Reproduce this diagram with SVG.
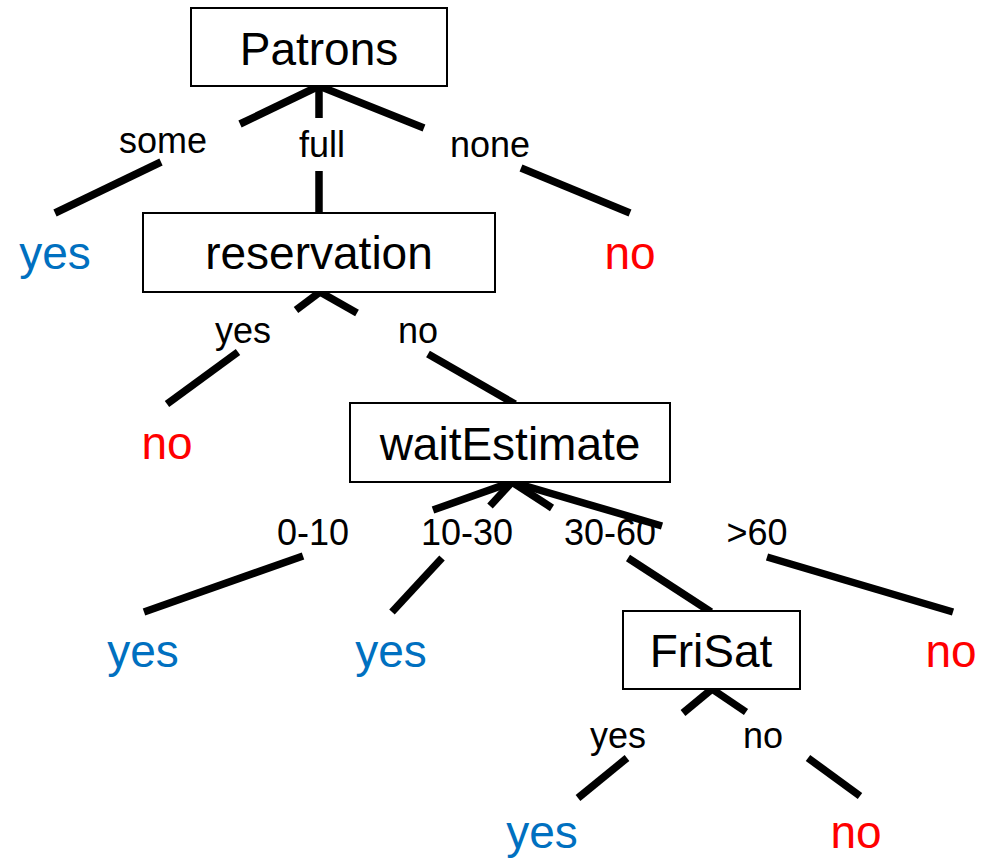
<svg xmlns="http://www.w3.org/2000/svg" width="981" height="859" viewBox="0 0 981 859">
<style>
.box{fill:#fff;stroke:#000;stroke-width:2}
.nt{font-family:"Liberation Sans",Arial,sans-serif;font-size:46px;text-anchor:middle;fill:#000}
.lbl{font-family:"Liberation Sans",Arial,sans-serif;font-size:36px;text-anchor:middle;fill:#000}
.yes{font-family:"Liberation Sans",Arial,sans-serif;font-size:46px;text-anchor:middle;fill:#0070C0}
.no{font-family:"Liberation Sans",Arial,sans-serif;font-size:46px;text-anchor:middle;fill:#FF0000}
.e{stroke:#000;stroke-width:7.5;fill:none;stroke-linecap:butt}
</style>
<rect width="981" height="859" fill="#fff"/>
<g id="connectors">
<line class="e" x1="319" y1="86" x2="240" y2="124"/>
<line class="e" x1="161" y1="162" x2="55" y2="213"/>
<line class="e" x1="319" y1="86" x2="319" y2="118"/>
<line class="e" x1="319" y1="171" x2="319" y2="213"/>
<line class="e" x1="319" y1="86" x2="424" y2="128"/>
<line class="e" x1="521" y1="168" x2="630" y2="213"/>
<line class="e" x1="320" y1="292" x2="296" y2="310"/>
<line class="e" x1="238" y1="352" x2="167" y2="404"/>
<line class="e" x1="320" y1="292" x2="357" y2="313"/>
<line class="e" x1="428" y1="354" x2="515" y2="404"/>
<line class="e" x1="512" y1="482" x2="433" y2="510"/>
<line class="e" x1="303" y1="556" x2="144" y2="612"/>
<line class="e" x1="512" y1="482" x2="490" y2="506"/>
<line class="e" x1="442" y1="558" x2="392" y2="612"/>
<line class="e" x1="512" y1="482" x2="552" y2="508"/>
<line class="e" x1="628" y1="558" x2="711" y2="612"/>
<line class="e" x1="512" y1="482" x2="662" y2="526"/>
<line class="e" x1="767" y1="557" x2="953" y2="612"/>
<line class="e" x1="712" y1="689" x2="683" y2="713"/>
<line class="e" x1="627" y1="758" x2="578" y2="798"/>
<line class="e" x1="712" y1="689" x2="746" y2="712"/>
<line class="e" x1="808" y1="758" x2="860" y2="796"/>
</g>
<g id="edge-labels">
<text class="lbl" x="163" y="153">some</text>
<text class="lbl" x="322" y="157">full</text>
<text class="lbl" x="490" y="157">none</text>
<text class="lbl" x="243" y="343">yes</text>
<text class="lbl" x="418" y="343">no</text>
<text class="lbl" x="313" y="545">0-10</text>
<text class="lbl" x="467" y="545">10-30</text>
<text class="lbl" x="610" y="545">30-60</text>
<text class="lbl" x="757" y="545">&gt;60</text>
<text class="lbl" x="618" y="748">yes</text>
<text class="lbl" x="763" y="748">no</text>
</g>
<g id="patrons"><rect class="box" x="191" y="8" width="256" height="78"/><text class="nt" x="319" y="65">Patrons</text></g>
<g id="reservation"><rect class="box" x="143" y="213" width="352" height="79"/><text class="nt" x="319" y="269">reservation</text></g>
<g id="waitEstimate"><rect class="box" x="350" y="403" width="320" height="79"/><text class="nt" x="510" y="460">waitEstimate</text></g>
<g id="friSat"><rect class="box" x="623" y="611" width="177" height="78"/><text class="nt" x="711" y="667">FriSat</text></g>
<g id="leaf-some"><text class="yes" x="55" y="269">yes</text></g>
<g id="leaf-none"><text class="no" x="630" y="269">no</text></g>
<g id="leaf-res-yes"><text class="no" x="167" y="459">no</text></g>
<g id="leaf-0-10"><text class="yes" x="143" y="667">yes</text></g>
<g id="leaf-10-30"><text class="yes" x="391" y="667">yes</text></g>
<g id="leaf-gt60"><text class="no" x="951" y="667">no</text></g>
<g id="leaf-fri-yes"><text class="yes" x="542" y="848">yes</text></g>
<g id="leaf-fri-no"><text class="no" x="856" y="848">no</text></g>
</svg>
